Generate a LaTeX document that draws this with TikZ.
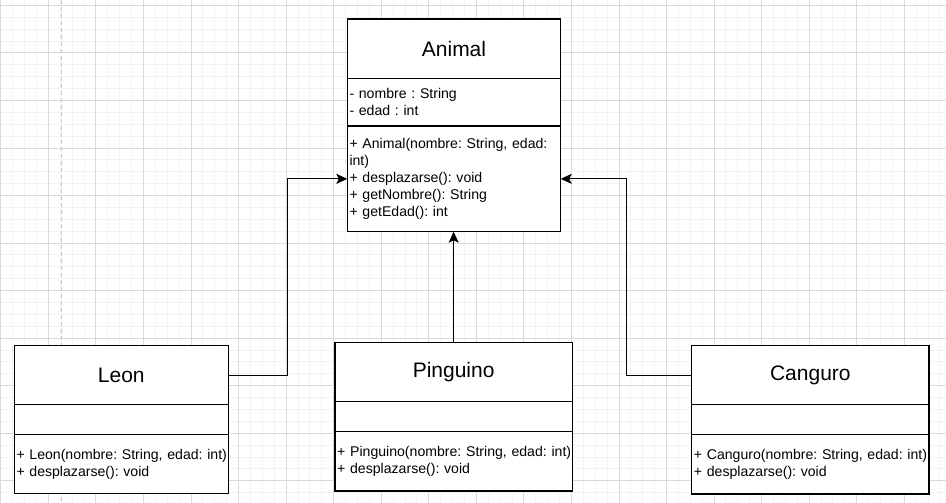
\documentclass[tikz,border=0pt]{standalone}
\usepackage{fontspec}
\setmainfont{Liberation Sans}
\frenchspacing
\usetikzlibrary{arrows.meta, calc, positioning}
\definecolor{gridMajor}{RGB}{218,218,218}
\definecolor{gridMinor}{RGB}{243,243,243}
\definecolor{pageRule}{RGB}{200,200,200}
\tikzset{
    classHead/.style={rectangle, draw, fill=white, line width=1.2pt, outer sep=0pt, inner sep=0pt, font=\fontsize{21}{25}\selectfont},
    classPart/.style={rectangle, draw, fill=white, line width=1.2pt, outer sep=0pt, inner xsep=2.2pt, inner ysep=0pt, align=left, text width=#1, font=\fontsize{14.1}{16.9}\selectfont},
    umlInherit/.style={-{Stealth[length=11pt, width=10pt, inset=2.5pt]}, line width=1.2pt},
    gridMinorLine/.style={gridMinor, line width=0.9pt},
    gridMajorLine/.style={gridMajor, line width=0.9pt},
}

\begin{document}
\begin{tikzpicture}[x=1pt, y=-1pt]
    \fill[white] (0,0) rectangle (946,503);
    \useasboundingbox (0,0) rectangle (946,503);

    % background grid
    \foreach \k in {0,...,79}
        \draw[gridMinorLine] ({0.8+\k*11.8875},0) -- ++(0,503);
    \foreach \k in {0,...,41}
        \draw[gridMinorLine] (0,{5.3+\k*11.8875}) -- ++(946,0);
    \foreach \k in {0,...,19}
        \draw[gridMajorLine] ({0.8+\k*47.55},0) -- ++(0,503);
    \foreach \k in {0,...,10}
        \draw[gridMajorLine] (0,{5.3+\k*47.55}) -- ++(946,0);
    \draw[pageRule, line width=1.3pt, dash pattern=on 4pt off 3pt] (61.8,0) -- (61.8,503);

    % Animal
    \node[classHead, minimum width=213.4pt, minimum height=59.3pt, anchor=north west] (animalHead) at (347.3,19) {Animal};
    \node[classPart=209pt, minimum height=47.7pt, below=0pt of animalHead] (animalAttr) {- nombre : String\\- edad : int};
    \node[classPart=209pt, minimum height=105.7pt, below=0pt of animalAttr] (animalMeth) {\mbox{+ Animal(nombre: String, edad:}\\int)\\+ desplazarse(): void\\+ getNombre(): String\\+ getEdad(): int};

    % Leon
    \node[classHead, minimum width=214pt, minimum height=59pt, anchor=north west] (leonHead) at (14.3,345.7) {Leon};
    \node[classPart=209.6pt, minimum height=30pt, below=0pt of leonHead] (leonAttr) {};
    \node[classPart=209.6pt, minimum height=59pt, below=0pt of leonAttr] (leonMeth) {\mbox{+ Leon(nombre: String, edad: int)}\\+ desplazarse(): void};

    % Pinguino
    \node[classHead, minimum width=237.3pt, minimum height=58.6pt, anchor=north west] (pinguinoHead) at (335,342.7) {Pinguino};
    \node[classPart=232.9pt, minimum height=30.4pt, below=0pt of pinguinoHead] (pinguinoAttr) {};
    \node[classPart=232.9pt, minimum height=59.3pt, below=0pt of pinguinoAttr] (pinguinoMeth) {\mbox{+ Pinguino(nombre: String, edad: int)}\\+ desplazarse(): void};

    % Canguro
    \node[classHead, minimum width=237.3pt, minimum height=59pt, anchor=north west] (canguroHead) at (691.7,345.7) {Canguro};
    \node[classPart=232.9pt, minimum height=30pt, below=0pt of canguroHead] (canguroAttr) {};
    \node[classPart=232.9pt, minimum height=59.3pt, below=0pt of canguroAttr] (canguroMeth) {\mbox{+ Canguro(nombre: String, edad: int)}\\+ desplazarse(): void};

    % inheritance
    \coordinate (leonBend) at ($(leonHead.east)!0.5!(animalMeth.west)$);
    \coordinate (canguroBend) at ($(canguroHead.west)!0.5!(animalMeth.east)$);
    \draw[umlInherit] (leonHead.east) -| (leonBend) |- (animalMeth.west);
    \draw[umlInherit] (pinguinoHead.north) -- (pinguinoHead.north |- animalMeth.south);
    \draw[umlInherit] (canguroHead.west) -| (canguroBend) |- (animalMeth.east);

\end{tikzpicture}
\end{document}
